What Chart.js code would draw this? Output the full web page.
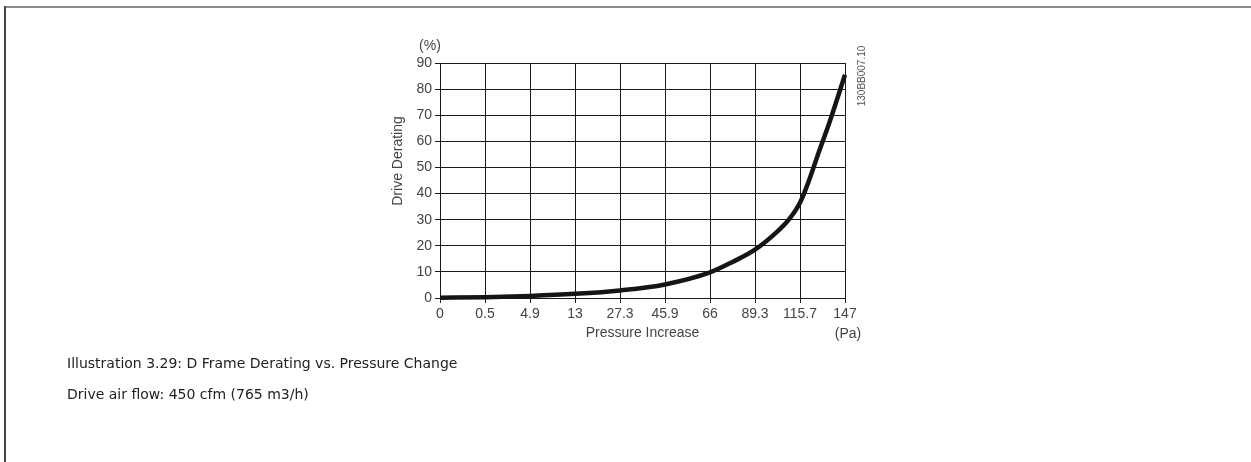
<!DOCTYPE html>
<html>
<head>
<meta charset="utf-8">
<title>D Frame Derating vs. Pressure Change</title>
<script src="https://cdn.jsdelivr.net/npm/chart.js@4.4.0/dist/chart.umd.min.js"></script>
<style>
body { margin: 0; background: #fff; width: 1251px; height: 462px; overflow: hidden; position: relative; }
#frame-top { position: absolute; left: 4px; top: 6px; width: 1247px; height: 2px; background: #8c8c8c; }
#frame-left { position: absolute; left: 4px; top: 6px; width: 2px; height: 456px; background: #444; }
#chart-box { position: absolute; left: 0; top: 0; width: 1251px; height: 462px; }
.caption { position: absolute; left: 67px; font-family: "DejaVu Sans", Verdana, sans-serif; font-size: 14px; color: #222; white-space: nowrap; }
</style>
</head>
<body>
<div id="frame-top"></div>
<div id="frame-left"></div>
<div id="chart-box"><canvas id="deratingChart" width="1251" height="462"></canvas></div>
<div class="caption" style="top:355px">Illustration 3.29: D Frame Derating vs. Pressure Change</div>
<div class="caption" style="top:386px">Drive air flow: 450 cfm (765 m3/h)</div>
<script>
// tick labels of the pressure axis (Pa), equally spaced on the drawing
var pressureLabels = ['0', '0.5', '4.9', '13', '27.3', '45.9', '66', '89.3', '115.7', '147'];
// position of each read point along the pressure axis (index of the tick)
var curvePos = [0, 1, 2, 3, 4, 5, 6, 6.5, 7, 7.5, 7.75, 8, 8.2, 8.4, 8.65, 9];
// drive derating (%)
var derating = [0.1, 0.3, 0.8, 1.6, 2.9, 5.2, 9.8, 13.8, 18.5, 25.5, 30, 36.5, 45, 55, 67, 85.5];
var yTicks = { min: 0, max: 90, step: 10 };

var points = [];
for (var i = 0; i < curvePos.length; i++) {
    points.push({ x: curvePos[i], y: derating[i] });
}

var gridColor = '#1a1a1a';
var labelColor = '#444';
var labelFont = { family: '"Liberation Sans", Arial, sans-serif', size: 14 };

var extraLabels = {
    id: 'extraLabels',
    afterDraw: function(chart) {
        var ctx = chart.ctx;
        var area = chart.chartArea;
        ctx.save();
        ctx.fillStyle = labelColor;
        ctx.font = '14px "Liberation Sans", Arial, sans-serif';
        ctx.textAlign = 'center';
        ctx.textBaseline = 'middle';
        ctx.fillText('(%)', area.left - 10, area.top - 17);
        ctx.fillText('(Pa)', area.right + 3, area.bottom + 36);
        // y axis title, sits a bit above the middle of the axis
        ctx.save();
        ctx.translate(area.left - 42, area.top + 98);
        ctx.rotate(-Math.PI / 2);
        ctx.fillText('Drive Derating', 0, 0);
        ctx.restore();
        // drawing number on the right
        ctx.fillStyle = '#555';
        ctx.font = '10px "Liberation Sans", Arial, sans-serif';
        ctx.translate(area.right + 17, area.top + 13);
        ctx.rotate(-Math.PI / 2);
        ctx.fillText('130BB007.10', 0, 0);
        ctx.restore();
    }
};

var ctx = document.getElementById('deratingChart').getContext('2d');
var chart = new Chart(ctx, {
    type: 'line',
    data: {
        datasets: [{
            data: points,
            borderColor: '#151515',
            borderWidth: 4.5,
            pointRadius: 0,
            fill: false,
            cubicInterpolationMode: 'monotone',
            clip: false
        }]
    },
    options: {
        responsive: false,
        animation: false,
        devicePixelRatio: 1,
        layout: { padding: { left: 390, right: 406, top: 63, bottom: 120 } },
        plugins: { legend: { display: false }, tooltip: { enabled: false } },
        scales: {
            x: {
                type: 'linear',
                min: 0,
                max: pressureLabels.length - 1,
                afterFit: function(scale) { scale.height = 44; },
                grid: { color: gridColor, lineWidth: 1, tickLength: 5, tickColor: gridColor },
                border: { display: true, color: gridColor, width: 1 },
                ticks: {
                    stepSize: 1,
                    autoSkip: false,
                    maxRotation: 0,
                    padding: 3,
                    color: labelColor,
                    font: labelFont,
                    callback: function(value) { return pressureLabels[value]; }
                },
                title: { display: true, text: 'Pressure Increase', color: labelColor, font: labelFont, padding: { top: 0, bottom: 0 } }
            },
            y: {
                min: yTicks.min,
                max: yTicks.max,
                afterFit: function(scale) { scale.width = 50; },
                grid: { color: gridColor, lineWidth: 1, tickLength: 5, tickColor: gridColor },
                border: { display: true, color: gridColor, width: 1 },
                ticks: { stepSize: yTicks.step, padding: 3, color: labelColor, font: labelFont }
            }
        }
    },
    plugins: [extraLabels]
});
</script>
</body>
</html>
